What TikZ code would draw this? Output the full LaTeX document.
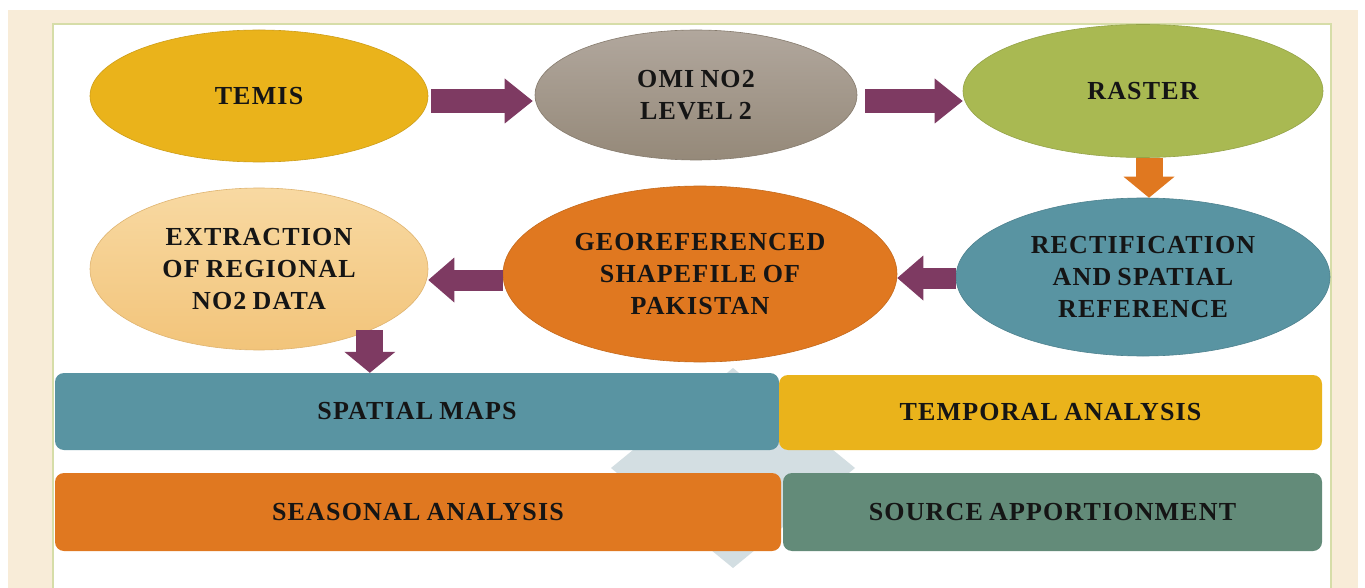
\documentclass[tikz,border=0pt]{standalone}
\usepackage{fontspec}
\setmainfont{Liberation Serif}[WordSpace=0.8,LetterSpace=4.5]
\usetikzlibrary{arrows.meta,shapes.geometric}
\definecolor{bgbeige}{HTML}{F8ECD8}
\definecolor{framegreen}{HTML}{D6DDA8}
\definecolor{cyellow}{HTML}{EAB31B}
\definecolor{omitop}{HTML}{B1A79D}
\definecolor{omibot}{HTML}{958979}
\definecolor{cgreen}{HTML}{A9B952}
\definecolor{cteal}{HTML}{5994A2}
\definecolor{corange}{HTML}{E07820}
\definecolor{extrtop}{HTML}{F8D9A2}
\definecolor{extrbot}{HTML}{F2C47A}
\definecolor{cpurple}{HTML}{7E3A62}
\definecolor{csource}{HTML}{638B79}
\definecolor{cdiamond}{HTML}{D3DEE2}
\definecolor{ctext}{HTML}{151515}
\newcommand\lblfont{\bfseries\fontsize{26}{32}\selectfont}
\begin{document}
\begin{tikzpicture}[x=1pt,y=-1pt,
  ell/.style={ellipse, inner sep=0pt, align=center, font=\lblfont, text=ctext},
  box/.style={rectangle, rounded corners=9pt, inner sep=0pt, font=\lblfont, text=ctext},
  harrow/.style={draw=cpurple, line width=24pt, -{Triangle[width=45pt,length=28pt,line width=0pt]}},
  harrowb/.style={draw=cpurple, line width=21pt, -{Triangle[width=45pt,length=26pt,line width=0pt]}},
  varrow/.style={line width=27pt, -{Triangle[width=51pt,length=21pt,line width=0pt]}}
]
\useasboundingbox (0,0) rectangle (1365,588);
% background
\fill[bgbeige] (8,10) rectangle (1358,588);
\fill[white] (53,24) rectangle (1331,588);
\draw[framegreen, line width=1.5pt] (53,588) -- (53,24) -- (1331,24) -- (1331,588);

% ellipses
\node[ell, fill=cyellow, draw=cyellow!88!black, line width=0.6pt, minimum width=338pt, minimum height=132pt] (temis) at (259,96) {TEMIS};
\node[ell, top color=omitop, bottom color=omibot, draw=omibot!90!black, line width=0.6pt, minimum width=322pt, minimum height=130pt] (omi) at (696,95) {OMI NO2\\LEVEL 2};
\node[ell, fill=cgreen, draw=cgreen!88!black, line width=0.6pt, minimum width=360pt, minimum height=133pt] (raster) at (1143,91) {RASTER};
\node[ell, fill=cteal, draw=cteal!88!black, line width=0.6pt, minimum width=374pt, minimum height=158pt] (rect) at (1143,277) {RECTIFICATION\\AND SPATIAL\\REFERENCE};
\node[ell, fill=corange, draw=corange!88!black, line width=0.6pt, minimum width=394pt, minimum height=176pt] (geo) at (700,274) {GEOREFERENCED\\SHAPEFILE OF\\PAKISTAN};
\node[ell, top color=extrtop, bottom color=extrbot, draw=extrbot!92!black, line width=0.6pt, minimum width=338pt, minimum height=162pt] (extr) at (259,269) {EXTRACTION\\OF REGIONAL\\NO2 DATA};

% diamond behind matrix
\fill[cdiamond] (733,368) -- (855,468) -- (733,568) -- (611,468) -- cycle;

% boxes
\node[box, fill=cteal, minimum width=724pt, minimum height=77pt] (spatial) at (417,411.5) {SPATIAL MAPS};
\node[box, fill=cyellow, minimum width=543pt, minimum height=75pt] (temporal) at (1050.5,412.5) {TEMPORAL ANALYSIS};
\node[box, fill=corange, minimum width=726pt, minimum height=78pt] (seasonal) at (418,512) {SEASONAL ANALYSIS};
\node[box, fill=csource, minimum width=539pt, minimum height=78pt] (source) at (1052.5,512) {SOURCE APPORTIONMENT};

% connectors
\draw[harrow] ([xshift=3pt,yshift=-5pt]temis.east) -- ([xshift=-2pt,yshift=-6pt]omi.west);
\draw[harrow] ([xshift=8pt,yshift=-6pt]omi.east) -- ([yshift=-10pt]raster.west);
\draw[varrow, draw=corange] ([xshift=6pt]raster.south) -- ([xshift=6pt]rect.north);
\draw[harrowb] ([yshift=-1pt]rect.west) -- ([yshift=-4pt]geo.east);
\draw[harrowb] ([yshift=-6pt]geo.west) -- ([yshift=-11pt]extr.east);
\draw[varrow, draw=cpurple] (extr.-29.5) -- (extr.-29.5 |- spatial.north);
\end{tikzpicture}
\end{document}
